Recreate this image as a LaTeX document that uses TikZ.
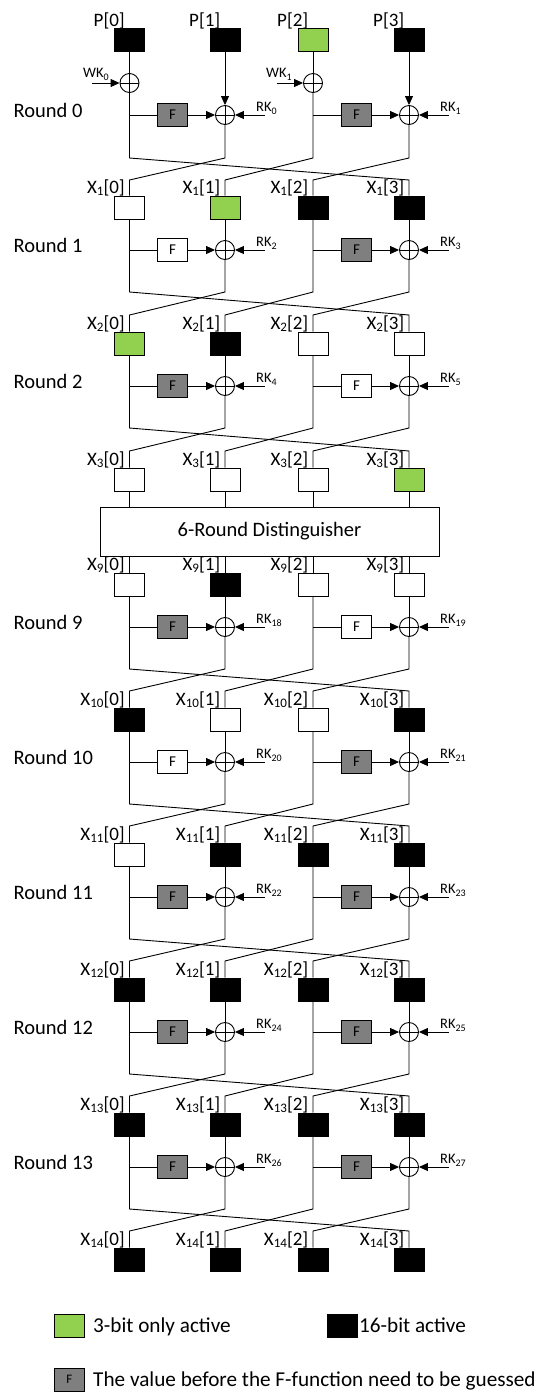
\documentclass[tikz,border=0pt]{standalone}
\usepackage{fontspec}
\setmainfont{Carlito}
\usetikzlibrary{arrows.meta}
\definecolor{actgreen}{HTML}{92D050}
\definecolor{fgray}{HTML}{7F7F7F}
\newcommand{\fsz}[1]{\fontsize{#1}{#1}\selectfont}
\newcommand{\sbx}[1]{\raisebox{-2.5pt}{\fsz{13}#1}}
\newcommand{\sbk}[1]{\raisebox{-3pt}{\fsz{10}#1}}
\tikzset{
  wire/.style={line width=0.9pt},
  arr/.style={wire, -{Triangle[length=9pt,width=8pt]}},
  cell/.style={draw, line width=0.9pt, minimum width=30pt, minimum height=23pt, inner sep=0pt},
  fbox/.style={cell, font=\fsz{15}},
  xorc/.style={draw, circle, minimum size=19pt, inner sep=0pt, line width=0.9pt,
    path picture={\draw[line width=0.9pt] (path picture bounding box.north) -- (path picture bounding box.south)
      (path picture bounding box.west) -- (path picture bounding box.east);}},
  lab/.style={anchor=base east, inner sep=0pt, font=\fsz{19}},
  rlab/.style={anchor=base west, inner sep=0pt, font=\fsz{20.5}},
  klab/.style={anchor=base west, inner sep=0pt, font=\fsz{14.5}},
  ltext/.style={anchor=base west, inner sep=0pt, font=\fsz{21.2}},
}
\begin{document}
\begin{tikzpicture}[x=1pt,y=-1pt]
\useasboundingbox (0,0) rectangle (543,1393);

% ---------- state rows ----------
\foreach \id/\tp/\lo/\pre/\fa/\fb/\fc/\fd in {
  p/28/1.5/{P}/black/black/actgreen/black,
  1/196/3/{X\sbx{1}}/white/actgreen/black/black,
  2/332/3/{X\sbx{2}}/actgreen/black/white/white,
  3/468/3/{X\sbx{3}}/white/white/white/actgreen,
  9/573/3/{X\sbx{9}}/white/black/white/white,
  10/708/3/{X\sbx{10}}/black/white/white/black,
  11/843/3/{X\sbx{11}}/white/black/black/black,
  12/978/3/{X\sbx{12}}/black/black/black/black,
  13/1113/3/{X\sbx{13}}/black/black/black/black,
  14/1248/3/{X\sbx{14}}/black/black/black/black}{
  \foreach \j/\cx/\fil in {0/129.5/\fa,1/225/\fb,2/313/\fc,3/409/\fd}{
    \node[cell, fill=\fil] (b\id-\j) at (\cx,\tp+11.5) {};
    \node[lab] (l\id-\j) at (\cx-4.5,\tp-\lo) {\pre[\j]};
  }
}

% ---------- round 0 ----------
\node[xorc] (w-L) at (129.5,83) {};
\node[xorc] (w-R) at (313,83) {};
\coordinate (wk-L) at (92,83);
\coordinate (wk-R) at (277,83);
\node[klab] (wkl-L) at (83,77) {WK\sbk{0}};
\node[klab] (wkl-R) at (266,77) {WK\sbk{1}};
\node[fbox, fill=fgray] (F0-L) at (172.5,115) {F};
\node[fbox, fill=fgray] (F0-R) at (356.5,115) {F};
\node[xorc] (x0-L) at (225,115) {};
\node[xorc] (x0-R) at (409,115) {};
\coordinate (j0-L) at (129.5,115);
\coordinate (j0-R) at (313,115);
\coordinate (k0-L) at (265,115);
\coordinate (k0-R) at (449,115);
\node[klab] (rk0-L) at (256,111) {RK\sbk{0}};
\node[klab] (rk0-R) at (440,111) {RK\sbk{1}};
\node[rlab] (rl0) at (13.5,117) {Round 0};
\foreach \j/\cx in {0/129.5,1/225,2/313,3/409}{
  \coordinate (d0-\j) at (\cx,158);
  \coordinate (e0-\j) at (\cx,180);
}
\draw[wire] (bp-0.south) -- (w-L.north);
\draw[wire] (bp-2.south) -- (w-R.north);
\draw[arr] (wk-L) -- (w-L.west);
\draw[arr] (wk-R) -- (w-R.west);
\draw[wire] (j0-L) -- (F0-L.west);
\draw[wire] (j0-R) -- (F0-R.west);
\draw[arr] (F0-L.east) -- (x0-L.west);
\draw[arr] (F0-R.east) -- (x0-R.west);
\draw[arr] (k0-L) -- (x0-L.east);
\draw[arr] (k0-R) -- (x0-R.east);
\draw[arr] (bp-1.south) -- (x0-L.north);
\draw[arr] (bp-3.south) -- (x0-R.north);
\draw[wire] (w-L.south) -- (d0-0) -- (e0-3) -- (b1-3.north);
\draw[wire] (x0-L.south) -- (d0-1) -- (e0-0) -- (b1-0.north);
\draw[wire] (w-R.south) -- (d0-2) -- (e0-1) -- (b1-1.north);
\draw[wire] (x0-R.south) -- (d0-3) -- (e0-2) -- (b1-2.north);

% ---------- standard rounds ----------
\foreach \rn/\a/\tp/\b/\tn/\fl/\fr in {
  1/1/196/2/332/white/fgray,
  2/2/332/3/468/fgray/white,
  9/9/573/10/708/fgray/white,
  10/10/708/11/843/white/fgray,
  11/11/843/12/978/fgray/fgray,
  12/12/978/13/1113/fgray/fgray,
  13/13/1113/14/1248/fgray/fgray}{
  \pgfmathsetmacro\fy{\tp+54}
  \pgfmathsetmacro\by{\tp+96}
  \pgfmathsetmacro\cy{\tn-17}
  \pgfmathtruncatemacro\ka{2*\rn}
  \pgfmathtruncatemacro\kb{2*\rn+1}
  \node[fbox, fill=\fl] (F\a-L) at (172.5,\fy) {F};
  \node[fbox, fill=\fr] (F\a-R) at (356.5,\fy) {F};
  \node[xorc] (x\a-L) at (225,\fy) {};
  \node[xorc] (x\a-R) at (409,\fy) {};
  \coordinate (j\a-L) at (129.5,\fy);
  \coordinate (j\a-R) at (313,\fy);
  \coordinate (k\a-L) at (265,\fy);
  \coordinate (k\a-R) at (449,\fy);
  \node[klab] (rk\a-L) at (256,\fy-4) {RK\sbk{\ka}};
  \node[klab] (rk\a-R) at (440,\fy-4) {RK\sbk{\kb}};
  \node[rlab] (rl\a) at (13.5,\fy+2) {Round \rn};
  \foreach \j/\cx in {0/129.5,1/225,2/313,3/409}{
    \coordinate (d\a-\j) at (\cx,\by);
    \coordinate (e\a-\j) at (\cx,\cy);
  }
  \draw[wire] (j\a-L) -- (F\a-L.west);
  \draw[wire] (j\a-R) -- (F\a-R.west);
  \draw[arr] (F\a-L.east) -- (x\a-L.west);
  \draw[arr] (F\a-R.east) -- (x\a-R.west);
  \draw[arr] (k\a-L) -- (x\a-L.east);
  \draw[arr] (k\a-R) -- (x\a-R.east);
  \draw[wire] (b\a-1.south) -- (x\a-L.north);
  \draw[wire] (b\a-3.south) -- (x\a-R.north);
  \draw[wire] (b\a-0.south) -- (d\a-0) -- (e\a-3) -- (b\b-3.north);
  \draw[wire] (x\a-L.south) -- (d\a-1) -- (e\a-0) -- (b\b-0.north);
  \draw[wire] (b\a-2.south) -- (d\a-2) -- (e\a-1) -- (b\b-1.north);
  \draw[wire] (x\a-R.south) -- (d\a-3) -- (e\a-2) -- (b\b-2.north);
}

% ---------- distinguisher ----------
\node[draw, line width=0.9pt, minimum width=339pt, minimum height=49pt, inner sep=0pt, font=\fsz{20.5}]
  (dist) at (269.5,531.5) {6-Round Distinguisher};
\foreach \j in {0,...,3}{
  \draw[wire] (b3-\j.south) -- (b3-\j.south |- dist.north);
  \draw[wire] (b9-\j.north |- dist.south) -- (b9-\j.north);
}

% ---------- legend ----------
\node[cell, fill=actgreen] (lg-g) at (69.25,1325.5) {};
\node[ltext] (lt-g) at (93,1332.5) {3-bit only active};
\node[cell, fill=black] (lg-k) at (342.5,1325.5) {};
\node[ltext] (lt-k) at (359,1332.5) {16-bit active};
\node[fbox, fill=fgray, font=\fsz{13}] (lg-f) at (69.25,1379.5) {F};
\node[ltext] (lt-f) at (93,1386.5) {The value before the F-function need to be guessed};
\end{tikzpicture}
\end{document}
